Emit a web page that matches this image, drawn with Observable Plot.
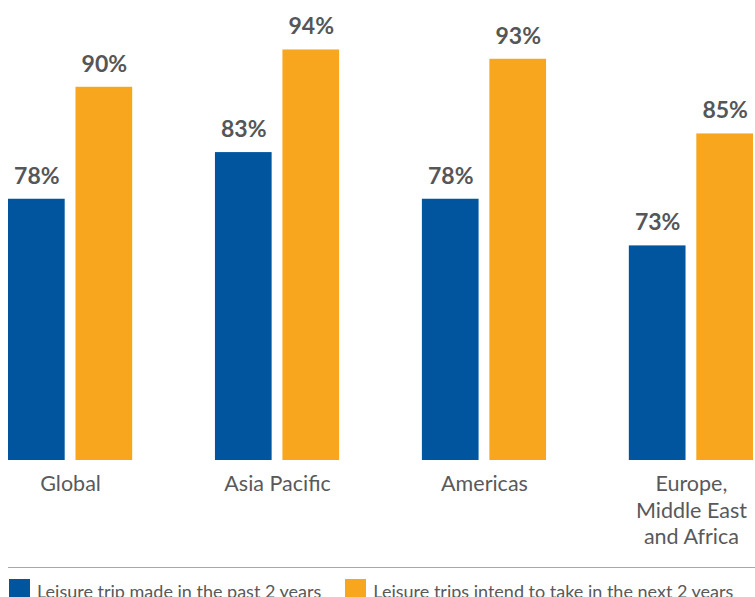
<!DOCTYPE html>
<html>
<head>
<meta charset="utf-8">
<script src="https://cdn.jsdelivr.net/npm/d3@7"></script>
<script src="https://cdn.jsdelivr.net/npm/@observablehq/plot@0.6"></script>
<style>
  html, body { margin: 0; padding: 0; background: #fff; }
  #wrap { width: 755px; font-family: Lato, "Open Sans", sans-serif; color: #58595b; }
  #rule { margin: 17px 0 0 8px; height: 0; border-top: 1.5px solid #a8a8a8; }
  #legend { display: flex; margin: 11px 0 0 9px; font-size: 18px; }
  .item { display: flex; align-items: flex-start; margin-right: 24px; }
  .sw { width: 21px; height: 21px; margin-right: 7px; flex: none; }
  .lt { line-height: 22px; margin-top: 1px; white-space: nowrap; }
</style>
</head>
<body>
<div id="wrap"></div>
<script>
const categories = ["Global", "Asia Pacific", "Americas", "Europe, Middle East and Africa"];
const categoryLabels = ["Global", "Asia Pacific", "Americas", "Europe,\nMiddle East\nand Africa"];
const seriesNames = ["Leisure trip made in the past 2 years", "Leisure trips intend to take in the next 2 years"];
const pastValues = [78, 83, 78, 73];
const nextValues = [90, 94, 93, 85];
const seriesColors = ["#00559f", "#f7a61d"];

const data = categories.flatMap((c, i) => [
  {region: c, series: seriesNames[0], value: pastValues[i]},
  {region: c, series: seriesNames[1], value: nextValues[i]}
]);
const labelOf = new Map(categories.map((c, i) => [c, categoryLabels[i]]));

const chart = Plot.plot({
  width: 755,
  height: 550,
  marginLeft: 8,
  marginRight: 2,
  marginTop: 0,
  marginBottom: 90,
  style: {fontFamily: "Lato, 'Open Sans', sans-serif", background: "#fff"},
  fx: {domain: categories, paddingInner: 0.4, paddingOuter: 0, round: false, label: null},
  x: {domain: seriesNames, paddingInner: 0.16, paddingOuter: 0, round: false, axis: null},
  y: {domain: [50, 99.3], axis: null},
  color: {domain: seriesNames, range: seriesColors},
  marks: [
    Plot.barY(data, {fx: "region", x: "series", y1: 50, y2: "value", fill: "series"}),
    Plot.text(data, {
      fx: "region", x: "series", y: "value",
      text: d => d.value + "%",
      dy: -23, fontSize: 23, fontWeight: "bold", fill: "#555658"
    }),
    Plot.axisFx({
      anchor: "bottom", tickSize: 0, tickPadding: 12, fontSize: 21.5,
      lineHeight: 1.23, fill: "#58595b",
      tickFormat: d => labelOf.get(d), label: null
    })
  ]
});

const wrap = document.getElementById("wrap");
wrap.appendChild(chart);
const rule = document.createElement("div");
rule.id = "rule";
wrap.appendChild(rule);
const legend = document.createElement("div");
legend.id = "legend";
seriesNames.forEach((s, i) => {
  const item = document.createElement("div");
  item.className = "item";
  const sw = document.createElement("div");
  sw.className = "sw";
  sw.style.background = seriesColors[i];
  const lt = document.createElement("div");
  lt.className = "lt";
  lt.textContent = s;
  item.appendChild(sw);
  item.appendChild(lt);
  legend.appendChild(item);
});
wrap.appendChild(legend);
</script>
</body>
</html>
